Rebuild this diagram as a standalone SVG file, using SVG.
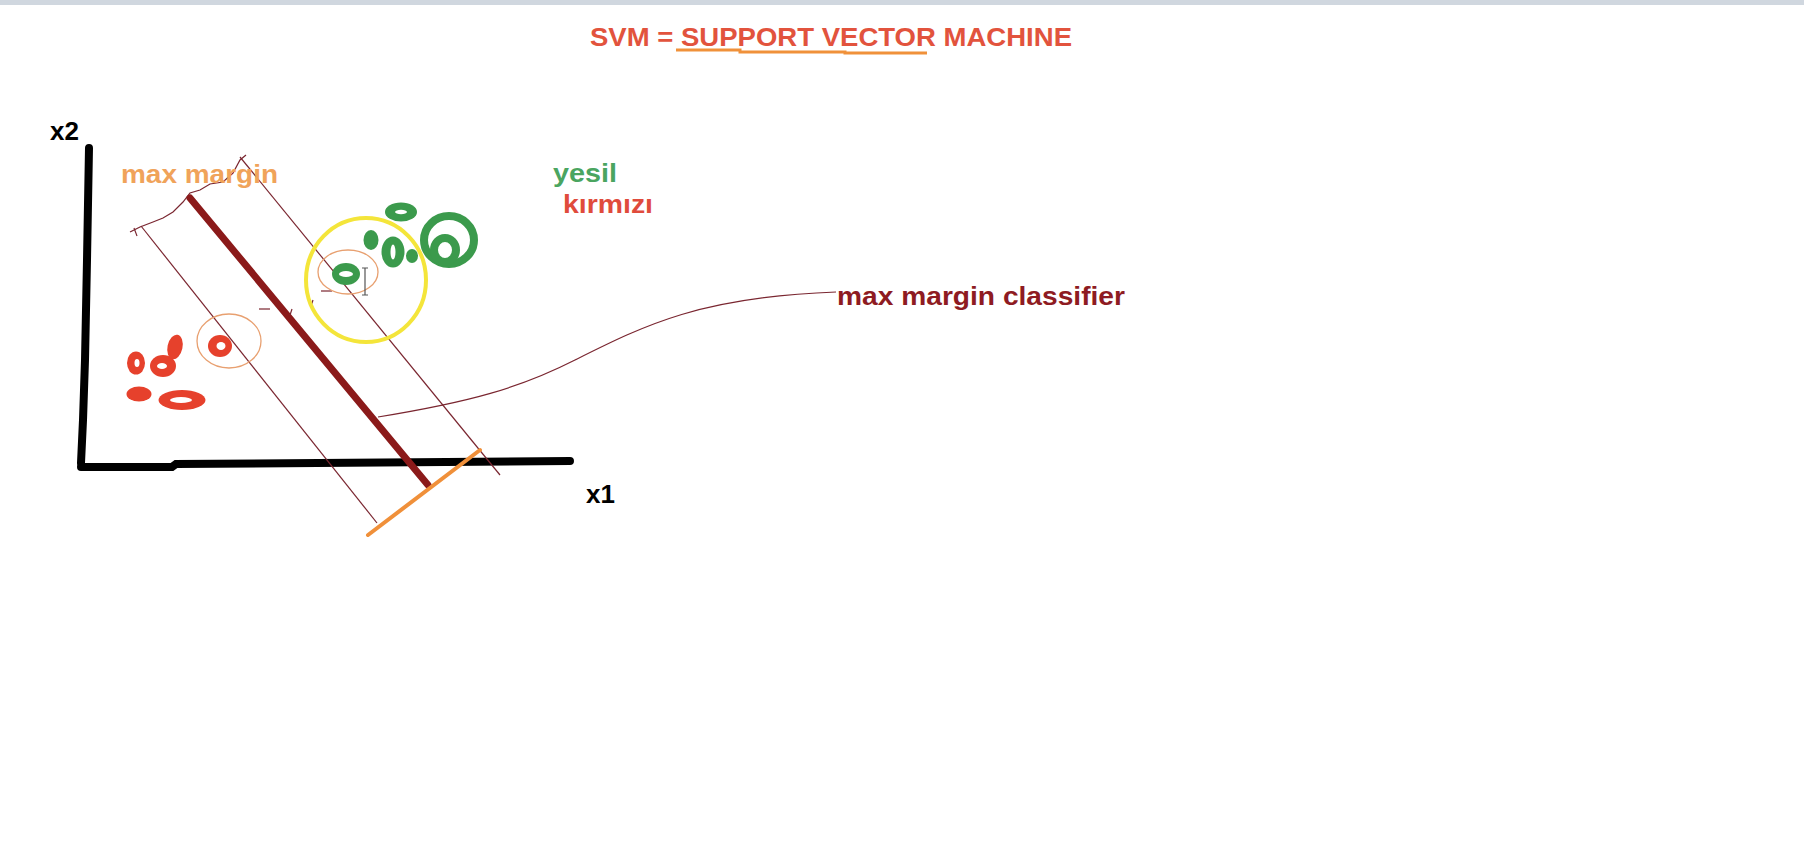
<svg xmlns="http://www.w3.org/2000/svg" width="1804" height="868" viewBox="0 0 1804 868">
<style>
text{font-family:"Liberation Sans",Arial,sans-serif;font-weight:bold;}
.thin{fill:none;stroke:#7a2630;stroke-width:1.2;}
.red{fill:#e6412c;}
.grn{fill:#3b9a4c;}
.hole{fill:#ffffff;}
.gring{fill:none;stroke:#3b9a4c;stroke-width:8;}
</style>
<rect x="0" y="0" width="1804" height="868" fill="#ffffff"/>
<rect x="0" y="0" width="1804" height="5" fill="#d0d7df"/>

<g id="title">
<text x="590" y="46" font-size="26" fill="#e2533d" textLength="482" lengthAdjust="spacingAndGlyphs">SVM = SUPPORT VECTOR MACHINE</text>
<polyline points="676,50 740,50 740,52 845,52 845,53 927,53" fill="none" stroke="#f0913a" stroke-width="3"/>
</g>

<g id="axes">
<polyline points="89,148 87,260 85,360 83,420 81,463" fill="none" stroke="#000" stroke-width="8" stroke-linecap="round"/>
<polyline points="81,467 172,467 176,464 570,461" fill="none" stroke="#000" stroke-width="8" stroke-linecap="round"/>
<text x="50" y="140" font-size="26" fill="#000">x2</text>
<text x="586" y="503" font-size="26" fill="#000">x1</text>
</g>

<g id="margin">
<line class="thin" x1="141" y1="226" x2="377" y2="523"/>
<line class="thin" x1="240" y1="157" x2="500" y2="475"/>
<polyline class="thin" points="130,232 140,227 153,222 163,218 173,212 183,202 190,193 200,190 210,184 223,182 233,173 240,160 246,155"/>
<line class="thin" x1="134" y1="228" x2="137" y2="236"/>
<line x1="190" y1="198" x2="428" y2="485" stroke="#8b1a1a" stroke-width="7" stroke-linecap="round"/>
<line x1="368" y1="535" x2="480" y2="450" stroke="#f0903a" stroke-width="4" stroke-linecap="round"/>
<line class="thin" x1="259" y1="309" x2="270" y2="309"/>
<line class="thin" x1="292" y1="309" x2="290" y2="315"/>
<line class="thin" x1="313" y1="300" x2="311" y2="306"/>
<line class="thin" x1="321" y1="291" x2="332" y2="291"/>
</g>

<g id="highlights">
<ellipse cx="366" cy="280" rx="60" ry="62" fill="none" stroke="#f4e53a" stroke-width="4"/>
<ellipse cx="348" cy="272" rx="30" ry="22" fill="none" stroke="#e8a070" stroke-width="1.3"/>
<ellipse cx="229" cy="341" rx="32" ry="27" fill="none" stroke="#e8a070" stroke-width="1.3"/>
</g>

<g id="red-points">
<ellipse class="red" cx="136" cy="363" rx="9" ry="11.5"/>
<ellipse class="hole" cx="137" cy="363" rx="2.5" ry="4"/>
<ellipse class="red" cx="163" cy="366" rx="13" ry="11"/>
<ellipse class="hole" cx="162" cy="366" rx="5" ry="3"/>
<ellipse class="red" cx="175" cy="347" rx="7.5" ry="12.5" transform="rotate(12 175 347)"/>
<ellipse class="red" cx="139" cy="394" rx="12.5" ry="7.5"/>
<ellipse class="red" cx="182" cy="400" rx="23.5" ry="10"/>
<ellipse class="hole" cx="181" cy="400" rx="11" ry="3"/>
<ellipse class="red" cx="220" cy="346" rx="12" ry="11"/>
<ellipse class="hole" cx="221" cy="346" rx="4.5" ry="4"/>
</g>

<g id="green-points">
<ellipse class="grn" cx="401" cy="212" rx="16" ry="9.5"/>
<ellipse class="hole" cx="401" cy="212" rx="6" ry="2.2"/>
<ellipse class="grn" cx="371" cy="240" rx="7.5" ry="10"/>
<ellipse class="grn" cx="393" cy="252" rx="11.5" ry="15.5"/>
<ellipse class="hole" cx="393" cy="252" rx="2.5" ry="7.5"/>
<ellipse class="grn" cx="412" cy="256" rx="6" ry="7"/>
<ellipse class="gring" cx="449" cy="240" rx="25" ry="24"/>
<ellipse class="gring" cx="445" cy="250" rx="11" ry="12"/>
<ellipse class="grn" cx="346" cy="274" rx="14" ry="11"/>
<ellipse class="hole" cx="346" cy="274" rx="7" ry="3"/>
<path d="M362,268 h6 M365,268 v27 M362,295 h6" fill="none" stroke="#555" stroke-width="1.2"/>
</g>

<g id="connectors">
<path class="thin" d="M378,417 C470,402 520,388 575,360 C645,325 700,297 836,292" stroke-width="1.5"/>
</g>

<g id="labels">
<text x="121" y="183" font-size="26" fill="#f0a35a" textLength="157" lengthAdjust="spacingAndGlyphs">max margin</text>
<text x="553" y="182" font-size="26" fill="#4aa560" textLength="64" lengthAdjust="spacingAndGlyphs">yesil</text>
<text x="563" y="213" font-size="26" fill="#e04b3c" textLength="90" lengthAdjust="spacingAndGlyphs">kırmızı</text>
<text x="837" y="305" font-size="26" fill="#8e1b22" textLength="288" lengthAdjust="spacingAndGlyphs">max margin classifier</text>
</g>
</svg>
